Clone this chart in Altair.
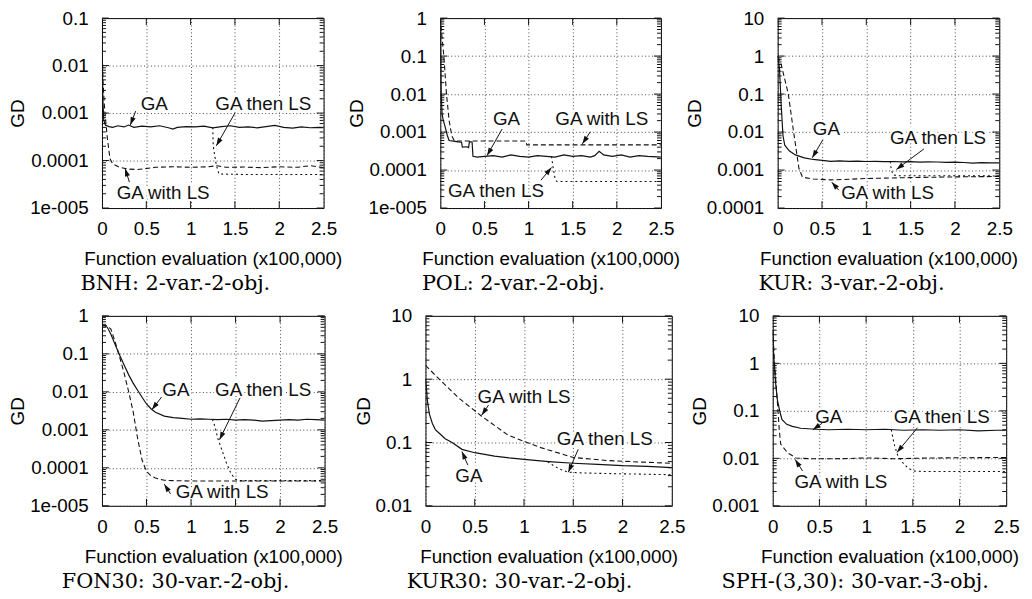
import math
import altair as alt
import pandas as pd

# ---------------- shared text / ticks ----------------
X_TICKS = [0, 0.5, 1, 1.5, 2, 2.5]
X_TICK_LABELS = ["0", "0.5", "1", "1.5", "2", "2.5"]
Y_TICK_VALUES = [1e-5, 1e-4, 1e-3, 1e-2, 0.1, 1, 10]
Y_TICK_LABELS = ["1e-005", "0.0001", "0.001", "0.01", "0.1", "1", "10"]
X_TITLE = "Function evaluation (x100,000)"
Y_TITLE = "GD"
CAPTIONS = ["BNH: 2-var.-2-obj.", "POL: 2-var.-2-obj.", "KUR: 3-var.-2-obj.",
            "FON30: 30-var.-2-obj.", "KUR30: 30-var.-2-obj.", "SPH-(3,30): 30-var.-3-obj."]

# ---------------- BNH ----------------
BNH_GA_X = [0, 0.005, 0.01, 0.02, 0.04, 0.08, 0.12, 0.18, 0.25, 0.3, 0.36, 0.45, 0.55, 0.65, 0.75, 0.8, 0.85,
            0.95, 1.05, 1.15, 1.25, 1.35, 1.45, 1.55, 1.65, 1.75, 1.85, 1.95, 2.05, 2.15, 2.25, 2.35, 2.45, 2.5]
BNH_GA_Y = [0.08, 0.01, 0.002, 0.0007, 0.00055, 0.00052, 0.0005, 0.00054, 0.00051, 0.00056, 0.0005, 0.00053,
            0.00051, 0.00054, 0.00049, 0.00046, 0.0005, 0.00052, 0.00051, 0.00053, 0.00049, 0.00052, 0.00054,
            0.0005, 0.00051, 0.00049, 0.00052, 0.00055, 0.0005, 0.00048, 0.00051, 0.00049, 0.0005, 0.00049]
BNH_WLS_X = [0, 0.01, 0.03, 0.06, 0.09, 0.12, 0.2, 0.3, 0.4, 0.5, 0.6, 0.8, 1.0, 1.2, 1.3, 1.4, 1.6, 1.8, 2.0,
             2.2, 2.35, 2.5]
BNH_WLS_Y = [0.05, 0.005, 0.0012, 0.0003, 0.00011, 0.000085, 0.000072, 0.000066, 0.000065, 0.000068, 0.000072,
             0.000074, 0.000072, 0.000074, 0.000078, 0.000072, 0.000073, 0.000071, 0.000074, 0.000072, 0.000078,
             0.000071]
BNH_TLS_X = [1.25, 1.255, 1.29, 1.32, 1.6, 2.0, 2.5]
BNH_TLS_Y = [0.0005, 0.0002, 0.00008, 0.000052, 0.000051, 0.000051, 0.000051]
BNH_NOTES = [("GA", 0.59, 0.00155, 0.38, 0.0011, 0.32, 0.00056),
             ("GA then LS", 1.82, 0.00155, 1.50, 0.001, 1.29, 0.000205),
             ("GA with LS", 0.69, 2.05e-5, 0.31, 3.5e-5, 0.26, 6.8e-5)]

# ---------------- POL ----------------
POL_GA_X = [0, 0.004, 0.01, 0.02, 0.03, 0.05, 0.08, 0.1, 0.15, 0.2, 0.24, 0.25, 0.3, 0.32, 0.33, 0.36, 0.37,
            0.42, 0.5, 0.6, 0.7, 0.8, 0.9, 1.0, 1.1, 1.2, 1.3, 1.4, 1.5, 1.6, 1.7, 1.75, 1.8, 1.85, 1.95, 2.05,
            2.15, 2.25, 2.35, 2.5]
POL_GA_Y = [0.8, 0.1, 0.01, 0.003, 0.0022, 0.0015, 0.0008, 0.0006, 0.00058, 0.00055, 0.00054, 0.0004, 0.00041,
            0.00039, 0.00056, 0.00055, 0.00023, 0.00022, 0.00023, 0.00024, 0.00022, 0.00025, 0.00023, 0.00022,
            0.00024, 0.00023, 0.00022, 0.00025, 0.00023, 0.00024, 0.00022, 0.00024, 0.00031, 0.00025, 0.00023,
            0.00025, 0.00022, 0.00024, 0.00023, 0.00022]
POL_WLS_X = [0, 0.02, 0.04, 0.07, 0.1, 0.13, 0.16, 0.5, 0.97, 0.98, 2.5]
POL_WLS_Y = [1.0, 0.3, 0.1, 0.01, 0.002, 0.0008, 0.00058, 0.00058, 0.00058, 0.00046, 0.00046]
POL_TLS_X = [1.26, 1.28, 1.3, 1.32, 2.5]
POL_TLS_Y = [0.00023, 0.00011, 0.00006, 0.00005, 0.00005]
POL_NOTES = [("GA", 0.75, 0.0022, 0.70, 0.0012, 0.53, 0.00024),
             ("GA with LS", 1.83, 0.0022, 1.70, 0.00102, 1.61, 0.00049),
             ("GA then LS", 0.63, 2.8e-5, 1.14, 5.4e-5, 1.26, 0.000117)]

# ---------------- KUR ----------------
KUR_GA_X = [0, 0.02, 0.04, 0.06, 0.08, 0.13, 0.2, 0.3, 0.4, 0.5, 0.6, 0.7, 0.8, 0.9, 1.0, 1.1, 1.2, 1.3, 1.4,
            1.5, 1.6, 1.7, 1.8, 1.9, 2.0, 2.1, 2.2, 2.3, 2.4, 2.5]
KUR_GA_Y = [1.0, 0.5, 0.05, 0.008, 0.0045, 0.0032, 0.0025, 0.0021, 0.0019, 0.0018, 0.0017, 0.00175, 0.0017,
            0.00172, 0.00168, 0.0017, 0.00166, 0.00168, 0.00164, 0.00167, 0.00162, 0.00165, 0.00163, 0.0016,
            0.00162, 0.00158, 0.00152, 0.00156, 0.00155, 0.00154]
KUR_WLS_X = [0, 0.04, 0.12, 0.18, 0.24, 0.28, 0.4, 0.6, 0.8, 1.0, 1.3, 1.6, 2.0, 2.3, 2.5]
KUR_WLS_Y = [1.0, 0.6, 0.1, 0.01, 0.0011, 0.00065, 0.00058, 0.00055, 0.00057, 0.0006, 0.00062, 0.00064,
             0.00066, 0.00067, 0.00068]
KUR_TLS_X = [1.27, 1.28, 1.3, 1.35, 2.5]
KUR_TLS_Y = [0.0017, 0.0011, 0.00075, 0.00071, 0.0007]
KUR_NOTES = [("GA", 0.55, 0.012, 0.51, 0.0063, 0.39, 0.0021),
             ("GA then LS", 1.81, 0.0071, 1.65, 0.0036, 1.34, 0.00104),
             ("GA with LS", 1.24, 0.00025, 0.69, 0.000295, 0.61, 0.00048)]

# ---------------- FON30 ----------------
FON_GA_X = [0, 0.03, 0.06, 0.1, 0.15, 0.2, 0.25, 0.3, 0.35, 0.4, 0.45, 0.5, 0.55, 0.6, 0.7, 0.8, 0.9, 1.0,
            1.1, 1.2, 1.3, 1.4, 1.5, 1.6, 1.7, 1.8, 1.9, 2.0, 2.1, 2.2, 2.3, 2.4, 2.5]
FON_GA_Y = [0.55, 0.55, 0.5, 0.33, 0.17, 0.09, 0.05, 0.028, 0.017, 0.011, 0.0072, 0.0048, 0.0036, 0.0029,
            0.0023, 0.0021, 0.002, 0.0019, 0.00195, 0.0019, 0.00185, 0.0019, 0.0018, 0.00185, 0.0018, 0.0017,
            0.00175, 0.0018, 0.00185, 0.0018, 0.0019, 0.00185, 0.0018]
FON_WLS_X = [0, 0.05, 0.1, 0.15, 0.2, 0.25, 0.3, 0.35, 0.4, 0.45, 0.5, 0.55, 0.6, 0.7, 0.8, 1.0, 1.5, 2.0, 2.5]
FON_WLS_Y = [0.55, 0.56, 0.45, 0.2, 0.08, 0.03, 0.01, 0.003, 0.0006, 0.00016, 0.00008, 0.000062, 0.000054,
             0.000047, 0.000046, 0.000045, 0.000045, 0.000045, 0.000045]
FON_TLS_X = [1.24, 1.27, 1.3, 1.35, 1.4, 1.45, 1.5, 1.55, 2.5]
FON_TLS_Y = [0.0019, 0.0012, 0.0006, 0.00028, 0.00013, 0.00007, 0.00005, 0.000046, 0.000046]
FON_NOTES = [("GA", 0.83, 0.0112, 0.67, 0.0073, 0.56, 0.0034),
             ("GA then LS", 1.81, 0.0112, 1.55, 0.0069, 1.32, 0.00055),
             ("GA with LS", 1.35, 2.3e-5, 0.77, 2.05e-5, 0.70, 3.7e-5)]

# ---------------- KUR30 ----------------
K30_GA_X = [0, 0.01, 0.02, 0.04, 0.07, 0.1, 0.14, 0.2, 0.27, 0.37, 0.5, 0.7, 0.85, 1.0, 1.25, 1.5, 1.75, 2.0,
            2.25, 2.5]
K30_GA_Y = [1.0, 0.7, 0.45, 0.28, 0.2, 0.16, 0.14, 0.115, 0.1, 0.078, 0.069, 0.061, 0.057, 0.054, 0.05, 0.047,
            0.045, 0.043, 0.042, 0.04]
K30_WLS_X = [0, 0.14, 0.34, 0.57, 0.84, 1.17, 1.5, 1.84, 2.2, 2.5]
K30_WLS_Y = [1.65, 1.0, 0.5, 0.26, 0.13, 0.083, 0.058, 0.052, 0.049, 0.047]
K30_TLS_X = [1.24, 1.3, 1.38, 1.45, 1.6, 2.0, 2.5]
K30_TLS_Y = [0.05, 0.043, 0.037, 0.034, 0.033, 0.032, 0.031]
K30_NOTES = [("GA with LS", 1.0, 0.52, 0.64, 0.39, 0.57, 0.27),
             ("GA then LS", 1.82, 0.112, 1.55, 0.078, 1.45, 0.034),
             ("GA", 0.44, 0.030, 0.43, 0.044, 0.37, 0.072)]

# ---------------- SPH-(3,30) ----------------
SPH_GA_X = [0, 0.01, 0.03, 0.05, 0.08, 0.1, 0.15, 0.21, 0.3, 0.46, 0.6, 0.8, 1.0, 1.2, 1.4, 1.6, 1.8, 2.0,
            2.2, 2.4, 2.5]
SPH_GA_Y = [5, 1.5, 0.4, 0.17, 0.09, 0.065, 0.052, 0.047, 0.043, 0.041, 0.04, 0.041, 0.04, 0.041, 0.039, 0.04,
            0.039, 0.04, 0.038, 0.039, 0.039]
SPH_WLS_X = [0, 0.02, 0.05, 0.07, 0.085, 0.16, 0.25, 0.4, 0.6, 0.8, 1.0, 1.3, 1.6, 2.0, 2.5]
SPH_WLS_Y = [5, 1.0, 0.15, 0.04, 0.02, 0.013, 0.0102, 0.0098, 0.0098, 0.0099, 0.0102, 0.0098, 0.0101, 0.0103,
             0.0104]
SPH_TLS_X = [1.27, 1.3, 1.34, 1.4, 1.45, 1.51, 1.6, 2.0, 2.5]
SPH_TLS_Y = [0.04, 0.02, 0.0112, 0.0078, 0.0062, 0.0054, 0.0053, 0.0053, 0.0053]
SPH_NOTES = [("GA", 0.60, 0.075, 0.53, 0.055, 0.43, 0.040),
             ("GA then LS", 1.81, 0.075, 1.55, 0.044, 1.33, 0.0133),
             ("GA with LS", 0.73, 0.00316, 0.32, 0.0054, 0.24, 0.0095)]

# ---------------- styling ----------------
SANS = "Liberation Sans"
SERIF = "DejaVu Serif"
FS = 19
H = 192
INK = "#111111"
ARROW_PATH = "M0,0L-0.33,1L0.33,1Z"


def label_expr(values, labels, geometric):
    expr = "'" + labels[-1] + "'"
    for i in range(len(values) - 2, -1, -1):
        if geometric:
            thr = math.sqrt(values[i] * values[i + 1])
        else:
            thr = (values[i] + values[i + 1]) / 2
        expr = f"datum.value < {thr} ? '{labels[i]}' : ({expr})"
    return expr


X_EXPR = label_expr(X_TICKS, X_TICK_LABELS, False)
Y_EXPR = label_expr(Y_TICK_VALUES, Y_TICK_LABELS, True)


def panel(caption, W, ymin, ymax, ga, wls, tls, notes):
    xs = alt.Scale(domain=[0, 2.5], nice=False, zero=False)
    ys = alt.Scale(type="log", domain=[ymin, ymax], nice=False)
    yvals = [v for v in Y_TICK_VALUES if ymin * 0.999 <= v <= ymax * 1.001]
    xaxis = alt.Axis(values=X_TICKS, labelExpr=X_EXPR, title=X_TITLE, grid=True, ticks=False, tickSize=0,
                     domain=False, labelPadding=12, titlePadding=11, labelFlush=False, labelOverlap=False)
    yaxis = alt.Axis(values=yvals, labelExpr=Y_EXPR, title=Y_TITLE, grid=True, ticks=False, tickSize=0,
                     domain=False, labelPadding=14, titlePadding=2, labelFlush=False, labelOverlap=False)

    def X(f):
        return alt.X(f, type="quantitative", scale=xs, axis=xaxis)

    def Y(f):
        return alt.Y(f, type="quantitative", scale=ys, axis=yaxis)

    layers = []
    nd = pd.DataFrame(notes, columns=["label", "tx", "ty", "ax1", "ay1", "ax2", "ay2"])
    ppx = W / 2.5
    ppd = H / (math.log10(ymax) - math.log10(ymin))
    angs = []
    for _, r in nd.iterrows():
        dx = (r.ax2 - r.ax1) * ppx
        dup = (math.log10(r.ay2) - math.log10(r.ay1)) * ppd
        angs.append(math.degrees(math.atan2(dx, dup)) % 360)
    nd["ang"] = angs

    # white box behind the labels
    layers.append(alt.Chart(nd).mark_text(font=SANS, fontSize=FS, color="white", stroke="white",
                                          strokeWidth=5).encode(x=X("tx"), y=Y("ty"), text="label:N"))

    # inward ticks (gnuplot style)
    minor = []
    k = math.floor(math.log10(ymin))
    while 10 ** k <= ymax:
        for m in range(2, 10):
            v = m * 10 ** k
            if ymin < v < ymax:
                minor.append(v)
        k += 1
    mdf = pd.DataFrame({"y": minor})
    ydf = pd.DataFrame({"y": yvals})
    xdf = pd.DataFrame({"x": X_TICKS[1:-1]})
    for d, ln in ((mdf, 4), (ydf, 7)):
        layers.append(alt.Chart(d).mark_rule(color=INK, strokeWidth=1).encode(
            y=Y("y"), x=alt.value(0), x2=alt.value(ln)))
        layers.append(alt.Chart(d).mark_rule(color=INK, strokeWidth=1).encode(
            y=Y("y"), x=alt.value(W), x2=alt.value(W - ln)))
    layers.append(alt.Chart(xdf).mark_rule(color=INK, strokeWidth=1).encode(
        x=X("x"), y=alt.value(H), y2=alt.value(H - 7)))
    layers.append(alt.Chart(xdf).mark_rule(color=INK, strokeWidth=1).encode(
        x=X("x"), y=alt.value(0), y2=alt.value(7)))

    # curves
    for (xv, yv), dash in ((ga, None), (wls, [5, 3]), (tls, [2, 3])):
        df = pd.DataFrame({"x": xv, "y": yv})
        if dash is None:
            mk = alt.Chart(df).mark_line(color=INK, strokeWidth=1.2, clip=True)
        else:
            mk = alt.Chart(df).mark_line(color=INK, strokeWidth=1.1, strokeDash=dash, clip=True)
        layers.append(mk.encode(x=X("x"), y=Y("y")))

    # arrows + labels
    layers.append(alt.Chart(nd).mark_rule(color=INK, strokeWidth=1).encode(
        x=X("ax1"), y=Y("ay1"), x2="ax2", y2="ay2"))
    layers.append(alt.Chart(nd).mark_point(shape=ARROW_PATH, size=256, filled=True, color=INK, opacity=1,
                                           strokeWidth=0).encode(
        x=X("ax2"), y=Y("ay2"), angle=alt.Angle("ang:Q", scale=None)))
    layers.append(alt.Chart(nd).mark_text(font=SANS, fontSize=FS, color=INK).encode(
        x=X("tx"), y=Y("ty"), text="label:N"))

    return alt.layer(*layers).properties(
        width=W, height=H,
        title=alt.TitleParams(caption, orient="bottom", anchor="middle", frame="bounds", offset=5,
                              font=SERIF, fontSize=21, fontWeight="normal", color="black"))


p1 = panel(CAPTIONS[0], 224, 1e-5, 0.1, (BNH_GA_X, BNH_GA_Y), (BNH_WLS_X, BNH_WLS_Y), (BNH_TLS_X, BNH_TLS_Y), BNH_NOTES)
p2 = panel(CAPTIONS[1], 223, 1e-5, 1, (POL_GA_X, POL_GA_Y), (POL_WLS_X, POL_WLS_Y), (POL_TLS_X, POL_TLS_Y), POL_NOTES)
p3 = panel(CAPTIONS[2], 224, 1e-4, 10, (KUR_GA_X, KUR_GA_Y), (KUR_WLS_X, KUR_WLS_Y), (KUR_TLS_X, KUR_TLS_Y), KUR_NOTES)
p4 = panel(CAPTIONS[3], 225, 1e-5, 1, (FON_GA_X, FON_GA_Y), (FON_WLS_X, FON_WLS_Y), (FON_TLS_X, FON_TLS_Y), FON_NOTES)
p5 = panel(CAPTIONS[4], 249, 0.01, 10, (K30_GA_X, K30_GA_Y), (K30_WLS_X, K30_WLS_Y), (K30_TLS_X, K30_TLS_Y), K30_NOTES)
p6 = panel(CAPTIONS[5], 236, 0.001, 10, (SPH_GA_X, SPH_GA_Y), (SPH_WLS_X, SPH_WLS_Y), (SPH_TLS_X, SPH_TLS_Y), SPH_NOTES)

row1 = alt.hconcat(p1, p2, p3, spacing=118, bounds="flush")
row2 = alt.hconcat(p4, p5, p6, spacing=102, bounds="flush")
chart = alt.vconcat(row1, row2, spacing=11).properties(
    padding={"left": 0, "top": -3, "right": 4, "bottom": 4}, background="white"
).configure_view(stroke="black", strokeWidth=1).configure_axis(
    labelFont=SANS, titleFont=SANS, labelFontSize=FS, titleFontSize=FS, labelColor="black",
    titleColor="black", titleFontWeight="normal", gridColor="#333333", gridDash=[1, 2.5], gridWidth=1,
    gridOpacity=0.9
)

chart.save("out.html", embed_options={"renderer": "svg", "actions": False})
